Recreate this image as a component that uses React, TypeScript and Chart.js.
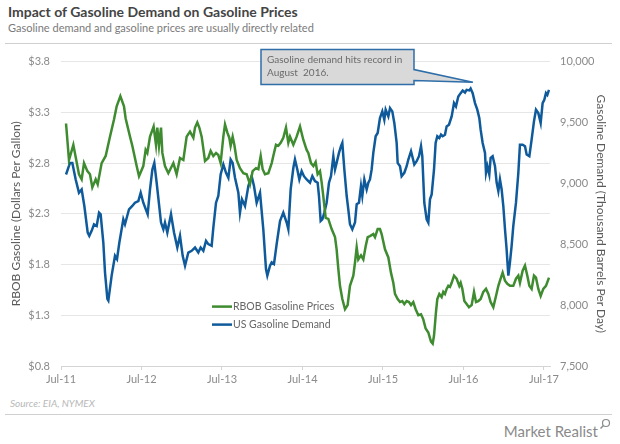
import React, { useEffect, useRef } from 'react';
import { Chart, registerables } from 'chart.js';

Chart.register(...registerables);

// X axis: months since Jul 2011
const xTickMonths = [0, 12, 24, 36, 48, 60, 72];
const xTickLabels = ['Jul-11', 'Jul-12', 'Jul-13', 'Jul-14', 'Jul-15', 'Jul-16', 'Jul-17'];
const priceTicks = [0.8, 1.3, 1.8, 2.3, 2.8, 3.3, 3.8];
const demandTicks = [7500, 8000, 8500, 9000, 9500, 10000];

// RBOB gasoline price ($/gal)
const priceMonths = [
  0.75, 1.19, 1.84, 2.68, 3.08, 3.43, 3.93, 4.32, 4.67, 5.17, 5.47, 6.06, 6.66, 7.3, 7.9, 8.3, 8.85, 9.39, 9.64, 10.29,
  10.63, 11.28, 11.63, 12.27, 12.62, 12.87, 13.27, 13.81, 14.16, 14.36, 14.61, 14.91, 15.11, 15.5, 16.0, 16.75, 17.24, 17.74,
  18.24, 18.73, 19.23, 19.73, 19.98, 20.32, 20.62, 20.97, 21.47, 21.96, 22.31, 22.71, 23.11, 23.45, 23.8, 24.2, 24.45, 24.8,
  25.09, 25.29, 25.59, 25.84, 26.19, 26.68, 27.18, 27.68, 28.17, 28.57, 29.07, 29.42, 29.77, 30.06, 30.41, 30.91, 31.41,
  31.65, 32.05, 32.4, 32.75, 33.14, 33.54, 33.89, 34.14, 34.64, 35.13, 35.63, 36.12, 36.62,
  36.87, 37.27, 37.62, 37.96, 38.26, 38.61, 38.86, 39.11, 39.46, 39.85, 40.35, 40.85, 41.09, 41.34, 41.59, 41.94, 42.34,
  42.73, 43.08, 43.58, 43.83, 44.08, 44.32, 44.72, 45.07, 45.42, 45.72, 46.06, 46.56, 46.81, 47.21, 47.55, 47.8, 48.3,
  48.8, 49.19, 49.54, 49.79, 50.19, 50.54, 50.88, 51.18, 51.53, 51.88, 52.18, 52.52, 52.87, 53.27, 53.67, 54.01, 54.36,
  54.76, 55.16, 55.41, 55.61, 55.9, 56.1, 56.4, 56.75, 56.99, 57.24, 57.49, 57.74, 57.99, 58.24, 58.59, 58.98, 59.38,
  59.58, 59.83, 60.13, 60.47, 60.82, 61.22, 61.57, 61.87, 62.21, 62.56, 62.96, 63.36, 63.71, 64.05, 64.45, 64.85, 65.2,
  65.54, 65.84, 66.19, 66.54, 66.93, 67.43, 67.83, 68.18, 68.42, 68.82, 69.17, 69.52, 69.82, 70.16, 70.51, 70.81, 71.16,
  71.51, 71.9, 72.3, 72.75,
];
const priceValues = [
  3.19, 2.83, 2.98, 2.69, 2.64, 2.8, 2.72, 2.69, 2.56, 2.64, 2.59, 2.8, 2.87, 3.06, 3.23, 3.36, 3.46, 3.36, 3.24, 3.06,
  2.97, 2.77, 2.67, 2.77, 2.93, 2.9, 3.06, 3.16, 2.98, 3.15, 2.97, 3.15, 2.9, 2.77, 2.7, 2.8, 2.69, 2.85,
  2.83, 3.06, 3.11, 3.05, 3.15, 3.2, 3.15, 3.06, 2.82, 2.85, 2.92, 2.87, 2.9, 2.88, 2.8, 3.06, 3.18, 3.1,
  3.05, 2.97, 3.06, 2.98, 2.83, 2.75, 2.7, 2.69, 2.59, 2.72, 2.75, 2.74, 2.87, 2.74, 2.69, 2.7, 2.8,
  2.87, 2.98, 2.97, 3.0, 3.05, 3.15, 3.0, 3.06, 2.98, 3.06, 3.16, 3.03, 2.93,
  2.9, 2.8, 2.77, 2.81, 2.69, 2.72, 2.61, 2.47, 2.26, 2.25, 2.15, 2.07, 1.95, 1.76, 1.59, 1.46, 1.36,
  1.4, 1.59, 1.69, 1.82, 1.97, 1.85, 1.89, 1.85, 1.98, 2.07, 2.08, 2.1, 2.07, 2.15, 2.15, 2.1, 1.95,
  1.87, 1.72, 1.62, 1.51, 1.46, 1.43, 1.44, 1.41, 1.44, 1.43, 1.4, 1.43, 1.36, 1.3, 1.31, 1.26, 1.17,
  1.13, 1.04, 1.02, 1.1, 1.33, 1.46, 1.51, 1.48, 1.53, 1.51, 1.56, 1.59, 1.58, 1.62, 1.69, 1.66, 1.59,
  1.62, 1.56, 1.44, 1.41, 1.38, 1.4, 1.53, 1.43, 1.44, 1.46, 1.53, 1.56, 1.51, 1.43, 1.38, 1.49, 1.59,
  1.66, 1.72, 1.64, 1.61, 1.59, 1.59, 1.66, 1.69, 1.62, 1.74, 1.79, 1.69, 1.59, 1.56, 1.69, 1.67, 1.56,
  1.49, 1.56, 1.59, 1.67,
];

// US gasoline demand (thousand barrels per day)
const demandMonths = [
  0.75, 1.34, 1.69, 2.19, 2.68, 3.08, 3.48, 3.98, 4.22, 4.57, 4.92, 5.32, 5.67, 5.91, 6.31, 6.56, 6.91, 7.06, 7.55, 8.05,
  8.35, 8.7, 9.29, 9.54, 10.14, 10.63, 11.03, 11.53, 11.88, 12.27, 12.92, 13.27, 13.62, 13.91, 14.26, 14.91, 15.26, 15.5,
  15.85, 16.4, 16.85, 17.34, 17.74,
  18.14, 18.49, 18.98, 19.48, 19.98, 20.47, 20.82, 21.22, 21.62, 21.96, 22.46, 22.71, 23.11, 23.45, 23.8, 24.2, 24.6,
  24.95, 25.29, 25.59, 25.94, 26.44, 26.68, 26.98, 27.43, 27.93, 28.42, 28.77, 29.17, 29.67, 30.16, 30.56, 30.76, 31.16,
  31.41, 31.75, 32.15, 32.65, 33.14, 33.64, 33.89, 34.24, 34.64, 34.88, 35.23, 35.53, 35.88, 36.22, 36.62,
  37.12, 37.47, 37.86, 38.26, 38.46, 38.71, 38.96, 39.26, 39.6, 39.95, 40.25, 40.6, 40.85, 41.09, 41.44, 41.74, 41.94,
  42.24, 42.59, 42.83, 43.08, 43.43, 43.83, 44.08, 44.42, 44.72, 44.92, 45.22, 45.57, 45.82, 46.06, 46.31, 46.56, 46.91,
  47.21, 47.55, 47.9, 48.2, 48.4, 48.8, 49.05, 49.39, 49.69, 50.04, 50.19, 50.54, 50.78, 51.18, 51.53, 51.78, 52.18,
  52.37, 52.67, 53.02, 53.37, 53.67, 53.86, 54.16, 54.51, 54.76, 55.01, 55.26,
  55.61, 55.85, 56.1, 56.4, 56.65, 56.9, 57.24, 57.49, 57.84, 58.24, 58.59, 58.88, 59.23, 59.58, 59.88, 60.23, 60.47,
  60.87, 61.07, 61.37, 61.72, 62.06, 62.36, 62.56, 62.86, 63.21, 63.36, 63.56, 63.85, 64.05, 64.35, 64.7, 64.95, 65.2,
  65.44, 65.69, 65.94, 66.19, 66.43, 66.69, 66.93, 67.18, 67.43, 67.83, 68.18, 68.42, 68.82, 69.17, 69.42, 69.82, 70.16,
  70.51, 70.81, 71.16, 71.51, 71.8, 72.05, 72.3, 72.5, 72.75,
];
const demandValues = [
  9073, 9168, 9168, 9032, 8923, 8950, 8814, 8596, 8569, 8610, 8664, 8650, 8760, 8746, 8514, 8269, 8051, 8037, 8242, 8405,
  8378, 8514, 8705, 8664, 8787, 8814, 8841, 8855, 8923, 8841, 8746, 8950, 9114, 9168, 9005, 8678, 8623, 8678,
  8596, 8746, 8596, 8473, 8569,
  8405, 8323, 8432, 8446, 8473, 8432, 8473, 8446, 8528, 8501, 8487, 8637, 8841, 8896, 9073, 9155, 9087,
  9046, 9196, 9168, 9046, 8923, 8760, 8869, 8814, 8978, 9059, 8978, 8841, 8923, 8623, 8296, 8242, 8323,
  8351, 8337, 8501, 8691, 8760, 8678, 8623, 8950, 9128, 9196, 9114, 9032, 9100, 9059, 9032,
  9005, 9059, 9019, 9005, 8896, 8691, 8705, 8760, 8841, 9005, 9059, 9223, 9114, 9168, 9250, 9305, 9332,
  9114, 8896, 8787, 8664, 8623, 8678, 8828, 8841, 8978, 8896, 9032, 8950, 9005, 9032, 9114, 9250, 9387,
  9414, 9537, 9591, 9523, 9605, 9550, 9618, 9591, 9496, 9332, 9168, 9141, 9059, 9087, 9141, 9196, 9264,
  9223, 9155, 9182, 9223, 9305, 9223, 8841, 8705, 8678, 8869, 8909,
  9114, 9332, 9387, 9373, 9400, 9387, 9400, 9468, 9482, 9550, 9659, 9632, 9714, 9741, 9763, 9746, 9768,
  9763, 9779, 9741, 9659, 9605, 9537, 9441, 9332, 9250, 9087, 9141, 9073, 9209, 9223, 9141, 9005, 8937,
  9032, 8950, 8814, 8623, 8460, 8242, 8351, 8487, 8650, 8841, 9087, 9318, 9318, 9305, 9237, 9223, 9359,
  9509, 9605, 9577, 9496, 9659, 9686, 9741, 9727, 9768,
];

const seriesLabels = ['RBOB Gasoline Prices', 'US Gasoline Demand'];
const seriesColors = ['#3e8b30', '#0e5a9b'];
const annotationLines = ['Gasoline demand hits record in', 'August  2016.'];
const annotationMonth = 61.4;
const annotationDemand = 9830;

const FONT = 'Lato, "Open Sans", sans-serif';

const overlayPlugin = {
  id: 'overlay',
  afterDraw(chart: any) {
    const { ctx, chartArea: a, scales } = chart;
    ctx.save();
    // legend inside plot
    const lx = a.left + 151;
    const ly = a.top + 245;
    seriesLabels.forEach((lab, i) => {
      const y = ly + i * 18;
      ctx.strokeStyle = seriesColors[i];
      ctx.lineWidth = 2.5;
      ctx.beginPath();
      ctx.moveTo(lx, y);
      ctx.lineTo(lx + 20, y);
      ctx.stroke();
      ctx.fillStyle = '#666666';
      ctx.font = `10.5px ${FONT}`;
      ctx.textBaseline = 'middle';
      ctx.textAlign = 'left';
      ctx.fillText(lab, lx + 21, y);
    });
    // annotation callout
    const bx = a.left + 200;
    const by = a.top - 12;
    const bw = 153;
    const bh = 35;
    const tipX = scales.x.getPixelForValue(annotationMonth);
    const tipY = scales.yR.getPixelForValue(annotationDemand);
    ctx.beginPath();
    ctx.moveTo(bx, by);
    ctx.lineTo(bx + bw, by);
    ctx.lineTo(bx + bw, by + 20);
    ctx.lineTo(tipX, tipY);
    ctx.lineTo(bx + bw, by + 31);
    ctx.lineTo(bx + bw, by + bh);
    ctx.lineTo(bx, by + bh);
    ctx.closePath();
    ctx.fillStyle = '#d9d9d9';
    ctx.fill();
    ctx.strokeStyle = '#2f6ea8';
    ctx.lineWidth = 1.5;
    ctx.stroke();
    ctx.fillStyle = '#6a6a6a';
    ctx.font = `10px ${FONT}`;
    ctx.textBaseline = 'middle';
    ctx.textAlign = 'left';
    annotationLines.forEach((t, i) => ctx.fillText(t, bx + 6, by + 10 + i * 13));
    ctx.restore();
  },
};

export default function App() {
  const ref = useRef<HTMLCanvasElement>(null);
  useEffect(() => {
    if (!ref.current) return;
    const chart = new Chart(ref.current, {
      type: 'line',
      data: {
        datasets: [
          {
            label: seriesLabels[0],
            data: priceMonths.map((m, i) => ({ x: m, y: priceValues[i] })),
            borderColor: seriesColors[0],
            borderWidth: 2.5,
            pointRadius: 0,
            tension: 0,
            yAxisID: 'yL',
          },
          {
            label: seriesLabels[1],
            data: demandMonths.map((m, i) => ({ x: m, y: demandValues[i] })),
            borderColor: seriesColors[1],
            borderWidth: 2.5,
            pointRadius: 0,
            tension: 0,
            yAxisID: 'yR',
          },
        ],
      },
      options: {
        animation: false,
        responsive: true,
        maintainAspectRatio: false,
        layout: { padding: { top: 16, left: 0, right: 0, bottom: 0 } },
        plugins: { legend: { display: false }, tooltip: { enabled: false } },
        scales: {
          x: {
            type: 'linear',
            min: 0,
            max: 72.9,
            afterBuildTicks: (s: any) => {
              s.ticks = xTickMonths.map((v) => ({ value: v }));
            },
            afterFit: (s: any) => {
              s.height = 28;
            },
            ticks: {
              autoSkip: false,
              maxRotation: 0,
              padding: 3,
              color: '#8a8a8a',
              font: { family: FONT, size: 11 },
              callback: (v: any) => {
                const i = xTickMonths.indexOf(Number(v));
                return i >= 0 ? xTickLabels[i] : '';
              },
            },
            grid: { drawOnChartArea: false, drawTicks: true, tickLength: 4, color: '#d4d4d4' },
            border: { color: '#d4d4d4' },
          },
          yL: {
            type: 'linear',
            position: 'left',
            min: 0.8,
            max: 3.8,
            afterBuildTicks: (s: any) => {
              s.ticks = priceTicks.map((v) => ({ value: v }));
            },
            afterFit: (s: any) => {
              s.width = 61;
            },
            ticks: {
              padding: 11,
              color: '#8a8a8a',
              font: { family: FONT, size: 11 },
              callback: (v: any) => '$' + Number(v).toFixed(1),
            },
            grid: { color: '#e6e6e6', drawTicks: false },
            border: { display: false },
            title: {
              display: true,
              text: 'RBOB Gasoline (Dollars Per Gallon)',
              color: '#5a5a5a',
              font: { family: FONT, size: 12 },
              padding: { top: 9, bottom: 0 },
            },
          },
          yR: {
            type: 'linear',
            position: 'right',
            min: 7500,
            max: 10000,
            afterBuildTicks: (s: any) => {
              s.ticks = demandTicks.map((v) => ({ value: v }));
            },
            afterFit: (s: any) => {
              s.width = 70;
            },
            ticks: {
              padding: 10,
              color: '#8a8a8a',
              font: { family: FONT, size: 11 },
              callback: (v: any) => Number(v).toLocaleString('en-US'),
            },
            grid: { display: false, drawTicks: false },
            border: { display: false },
            title: {
              display: true,
              text: 'Gasoline Demand (Thousand Barrels Per Day)',
              color: '#5a5a5a',
              font: { family: FONT, size: 12 },
              padding: { top: 12, bottom: 0 },
            },
          },
        },
      },
      plugins: [overlayPlugin],
    });
    return () => chart.destroy();
  }, []);

  return (
    <div
      style={{
        position: 'fixed',
        left: 0,
        top: 0,
        width: 620,
        height: 444,
        background: '#ffffff',
        overflow: 'hidden',
        fontFamily: FONT,
      }}
    >
      <div style={{ position: 'absolute', left: 8, top: 3, fontSize: 14, fontWeight: 700, color: '#444444', whiteSpace: 'nowrap' }}>
        Impact of Gasoline Demand on Gasoline Prices
      </div>
      <div style={{ position: 'absolute', left: 8, top: 21, fontSize: 11, color: '#7a7a7a', whiteSpace: 'nowrap' }}>
        Gasoline demand and gasoline prices are usually directly related
      </div>
      <div style={{ position: 'absolute', left: 5, top: 43, width: 607, height: 1, background: '#cfcfcf' }} />
      <div style={{ position: 'absolute', left: 0, top: 44, width: 620, height: 350 }}>
        <canvas ref={ref} />
      </div>
      <div style={{ position: 'absolute', left: 10, top: 397, fontSize: 10, fontStyle: 'italic', color: '#b8b8b8', whiteSpace: 'nowrap' }}>
        Source: EIA, NYMEX
      </div>
      <div style={{ position: 'absolute', left: 5, top: 414, width: 607, height: 1, background: '#d0d0d0' }} />
      <div style={{ position: 'absolute', right: 22, top: 422, fontSize: 15, color: '#8a8a8a', whiteSpace: 'nowrap' }}>
        Market Realist
      </div>
      <svg style={{ position: 'absolute', left: 599, top: 418 }} width="12" height="12" viewBox="0 0 12 12">
        <circle cx="7" cy="5" r="3.5" fill="none" stroke="#8a8a8a" strokeWidth="1.2" />
        <line x1="4.5" y1="7.5" x2="1.5" y2="10.5" stroke="#8a8a8a" strokeWidth="1.5" />
      </svg>
    </div>
  );
}
